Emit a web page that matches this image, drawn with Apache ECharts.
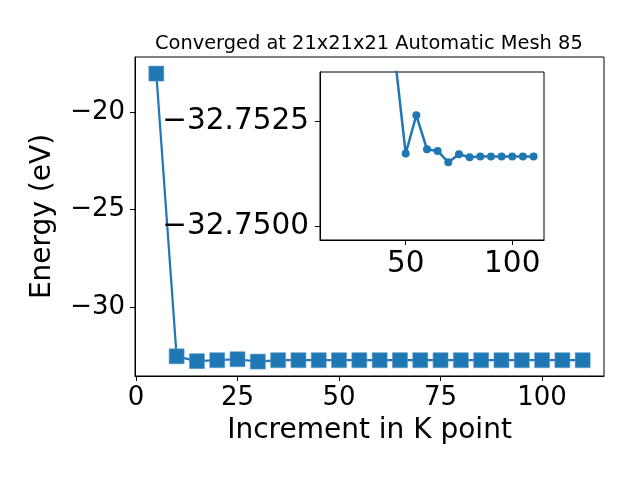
<!DOCTYPE html>
<html>
<head>
<meta charset="utf-8">
<script src="https://cdn.jsdelivr.net/npm/echarts@6/dist/echarts.min.js"></script>
<style>html,body{margin:0;padding:0;background:#fff}#c{width:640px;height:480px}</style>
</head>
<body>
<div id="c"></div>
<script>
const kPoints = [5,10,15,20,25,30,35,40,45,50,55,60,65,70,75,80,85,90,95,100,105,110];
const energy = [-18.03,-32.53,-32.78,-32.73,-32.68,-32.80,-32.73,-32.73,-32.73,-32.73,-32.73,-32.73,-32.73,-32.73,-32.73,-32.73,-32.73,-32.73,-32.73,-32.73,-32.73,-32.73];
const insetK = [45,50,55,60,65,70,75,80,85,90,95,100,105,110];
const insetEnergy = [-32.7540,-32.75173,-32.75264,-32.75183,-32.75179,-32.75152,-32.75171,-32.75164,-32.75166,-32.75166,-32.75166,-32.75166,-32.75166,-32.75166];
const mainXTicks = [0,25,50,75,100];
const mainYTicks = [-30,-25,-20];
const insetXTicks = [50,100];
const insetYTicks = [-32.7525,-32.75];
const titleText = 'Converged at 21x21x21 Automatic Mesh 85';

const FONT = 'DejaVu Sans';
const C = '#1f77b4';
const minus = s => s.replace('-', '\u2212');

const chart = echarts.init(document.getElementById('c'), null, {renderer:'canvas'});
const axisCommon = {
  axisLine:{show:true, onZero:false, lineStyle:{color:'#000', width:1}},
  axisTick:{show:true, length:5, lineStyle:{color:'#000', width:1}},
  splitLine:{show:false}
};
chart.setOption({
  animation:false,
  backgroundColor:'#fff',
  title:{text:titleText, left:150, top:29,
    textStyle:{fontFamily:FONT, fontSize:19.4, fontWeight:'normal', color:'#000'}},
  grid:[
    {left:135, top:57, width:469, height:319, show:true, borderColor:'#000', borderWidth:1, backgroundColor:'transparent'},
    {left:320, top:72, width:224, height:168, show:true, borderColor:'#000', borderWidth:1, backgroundColor:'#fff', z:5}
  ],
  xAxis:[
    Object.assign({}, axisCommon, {type:'value', gridIndex:0, min:-0.25, max:115.25,
      name:'Increment in K point', nameLocation:'middle', nameGap:41,
      nameTextStyle:{fontFamily:FONT, fontSize:28, color:'#000', verticalAlign:'top'},
      axisTick:{show:true, length:5, customValues:mainXTicks, lineStyle:{color:'#000'}},
      axisLabel:{customValues:mainXTicks, fontFamily:FONT, fontSize:26, color:'#000', margin:9,
        formatter:v=>minus(String(v))}}),
    Object.assign({}, axisCommon, {type:'value', gridIndex:1, min:9.8, max:114.9, z:6,
      axisTick:{show:true, length:5, customValues:insetXTicks, lineStyle:{color:'#000'}},
      axisLabel:{customValues:insetXTicks, fontFamily:FONT, fontSize:29.5, color:'#000', margin:9,
        formatter:v=>String(v)}})
  ],
  yAxis:[
    Object.assign({}, axisCommon, {type:'value', gridIndex:0, min:-33.54, max:-17.18,
      name:'Energy (eV)', nameLocation:'middle', nameGap:78, nameRotate:90,
      nameTextStyle:{fontFamily:FONT, fontSize:28, color:'#000'},
      axisTick:{show:true, length:5, customValues:mainYTicks, lineStyle:{color:'#000'}},
      axisLabel:{customValues:mainYTicks, fontFamily:FONT, fontSize:26, color:'#000', margin:10,
        formatter:v=>minus(String(v))}}),
    Object.assign({}, axisCommon, {type:'value', gridIndex:1, inverse:true, min:-32.75367, max:-32.74967, z:6,
      axisTick:{show:true, length:5, customValues:insetYTicks, lineStyle:{color:'#000'}},
      axisLabel:{customValues:insetYTicks, fontFamily:FONT, fontSize:29.5, color:'#000', margin:11,
        formatter:v=>minus(v.toFixed(4))}})
  ],
  series:[
    {type:'line', xAxisIndex:0, yAxisIndex:0, data:kPoints.map((k,i)=>[k,energy[i]]),
      symbol:'rect', symbolSize:15, showAllSymbol:true,
      lineStyle:{color:C, width:2.2}, itemStyle:{color:C, borderColor:'#5c9ccb', borderWidth:0.6}, z:3},
    {type:'line', xAxisIndex:1, yAxisIndex:1, data:insetK.map((k,i)=>[k,insetEnergy[i]]),
      symbol:'circle', symbolSize:8, showAllSymbol:true, clip:true,
      lineStyle:{color:C, width:2.5}, itemStyle:{color:C}, z:7}
  ]
});
</script>
</body>
</html>
